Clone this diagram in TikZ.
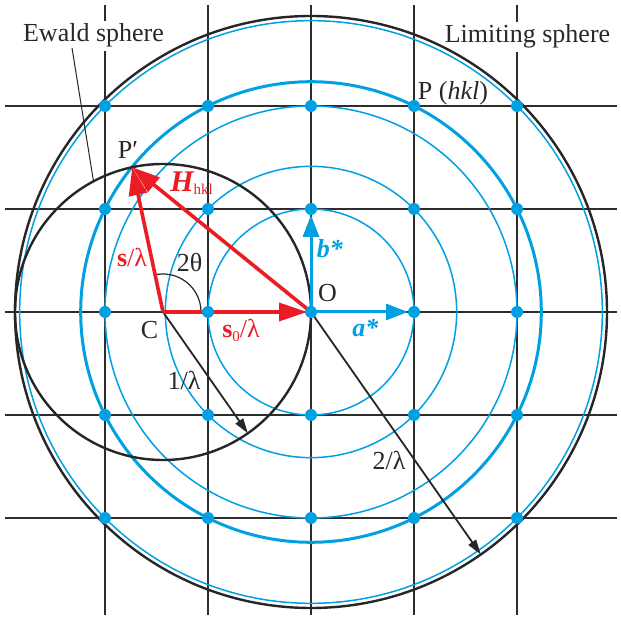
\documentclass[tikz,border=0pt]{standalone}
\usepackage{fontspec}
\setmainfont{Liberation Serif}
\usetikzlibrary{arrows.meta,calc}
\definecolor{myblue}{RGB}{0,160,227}
\definecolor{myred}{RGB}{236,28,36}
\definecolor{gridc}{RGB}{45,45,45}
\definecolor{textc}{RGB}{40,40,40}
\begin{document}
\begin{tikzpicture}[x=1pt,y=1pt,
  gridline/.style={gridc,line width=1.4pt},
  thinblue/.style={myblue,line width=1.5pt},
  thickblue/.style={myblue,line width=3pt},
  blackcirc/.style={black!85,line width=2.4pt},
  redarrow/.style={myred,line width=3.6pt,-{Triangle[length=28pt,width=18pt]}},
  bluearrow/.style={myblue,line width=3pt,-{Triangle[length=22pt,width=16pt]}},
  blackarrow/.style={black!85,line width=1.8pt,-{Triangle[length=15pt,width=9pt]}},
  leader/.style={black!85,line width=1pt},
  anglearc/.style={black!85,line width=1.2pt},
  dot/.style={circle,fill=myblue,inner sep=0pt,minimum size=12pt},
  lbl/.style={font=\fontsize{26}{30}\selectfont,inner sep=0pt,anchor=base,text=textc},
]
\useasboundingbox (0,0) rectangle (621,624);
\fill[white] (0,0) rectangle (621,624);
% grid
\foreach \i in {1,...,5} {
  \coordinate (gt\i) at ({311+103*(\i-3)},619);
  \coordinate (gb\i) at ({311+103*(\i-3)},9);
  \coordinate (gl\i) at (5,{312+103*(\i-3)});
  \coordinate (gr\i) at (617,{312+103*(\i-3)});
  \draw[gridline] (gt\i) -- (gb\i);
  \draw[gridline] (gl\i) -- (gr\i);
}
% labels that mask the grid
\node[lbl,fill=white,inner sep=3pt] (ewlabel) at (93.5,582) {Ewald sphere};
\node[lbl,fill=white,inner sep=3pt] (limlabel) at (527.5,581) {Limiting sphere};
% key points
\coordinate (O) at (311,312);
\coordinate (C) at (163,312);
\coordinate (Pp) at ($(C)+(102:148pt)$);
\coordinate (Astar) at (414,312);
\coordinate (Bstar) at (311,415);
\coordinate (E1) at ($(C)+(-55:148pt)$);
\coordinate (E2) at ($(O)+(-55:296pt)$);
\coordinate (ewfoot) at ($(C)+(118:148pt)$);
\coordinate (ewtop) at (72,576);
\coordinate (arcstart) at ($(C)+(38pt,0)$);
% circles
\foreach \r in {103,145.66,206,291.33} \draw[thinblue] (O) circle[radius=\r pt];
\draw[thickblue] (O) circle[radius=230.3pt];
\draw[blackcirc] (O) circle[radius=296pt];
\draw[blackcirc] (C) circle[radius=148pt];
\draw[leader] (ewtop) -- (ewfoot);
% radii
\draw[blackarrow] (C) -- (E1);
\draw[blackarrow] (O) -- (E2);
\draw[anglearc] (arcstart) arc[start angle=0,end angle=102,radius=38pt];
% vectors
\draw[bluearrow,shorten >=6pt] (O) -- (Astar);
\draw[bluearrow,shorten >=6pt] (O) -- (Bstar);
\draw[redarrow,shorten >=4pt] (C) -- (O);
\draw[redarrow] (C) -- (Pp);
\draw[redarrow] (O) -- (Pp);
% lattice points
\foreach \i in {1,...,5} \foreach \j in {1,...,5}
  \node[dot] (d\i\j) at ({311+103*(\i-3)},{312+103*(\j-3)}) {};
% labels
\node[lbl] (plab) at (453,524) {P (\textit{hkl})};
\node[lbl] (pplab) at (128,465) {P′};
\node[lbl] (olab) at (327.5,322) {O};
\node[lbl] (clab) at (149.5,285) {C};
\node[lbl,text=myblue] (blab) at (330,366) {\textbf{\textit{b*}}};
\node[lbl,text=myblue] (alab) at (365.5,287) {\textbf{\textit{a*}}};
\node[lbl,text=myred] (s0lab) at (241,286) {\textbf{s}\raisebox{-4pt}{\fontsize{15}{16}\selectfont 0}/λ};
\node[lbl,text=myred] (slab) at (132,357) {\textbf{s}/λ};
\node[lbl,text=myred] (hlab) at (191.5,432) {{\fontsize{30}{30}\selectfont\bfseries\itshape H}\raisebox{-3pt}{\fontsize{15}{15}\selectfont hkl}};
\node[lbl] (tlab) at (189.5,352) {2θ};
\node[lbl] (l1lab) at (184,234) {1/λ};
\node[lbl] (l2lab) at (389,154) {2/λ};
\end{tikzpicture}
\end{document}
